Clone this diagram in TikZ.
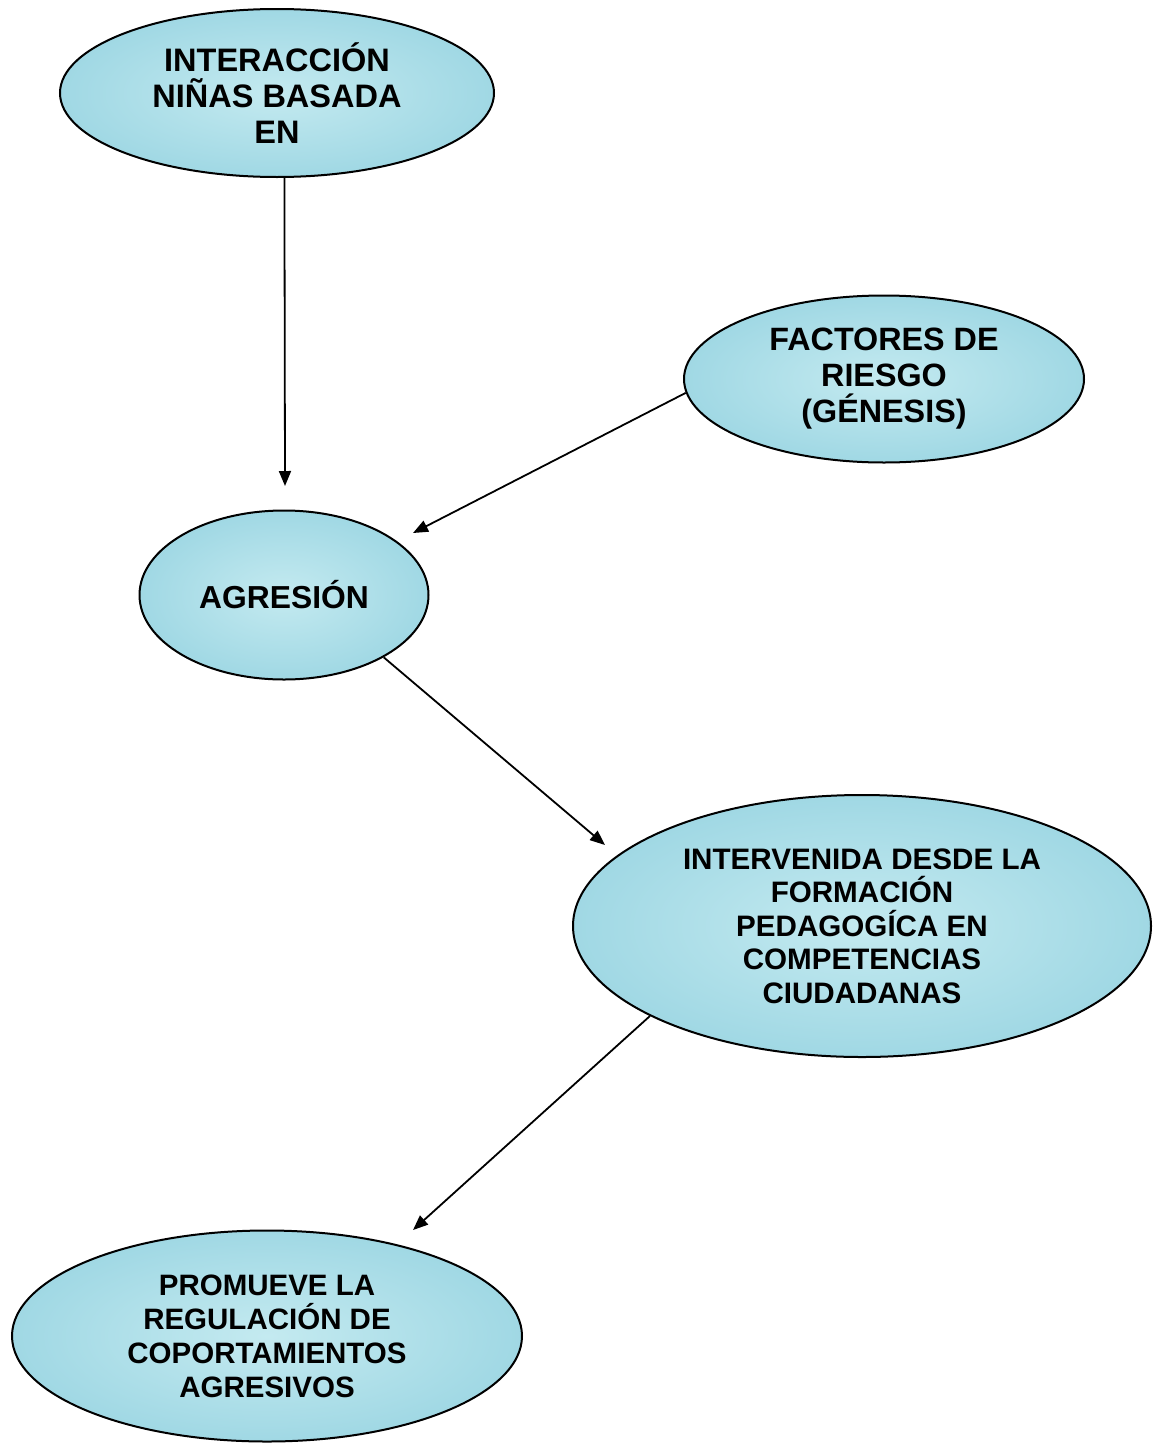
\documentclass[tikz,border=0pt]{standalone}
\usepackage{fontspec}
\setmainfont{Liberation Sans}
\usetikzlibrary{shapes.geometric,arrows.meta}
\definecolor{drop}{RGB}{160,216,228}
\definecolor{droplight}{RGB}{196,234,240}
\tikzset{
  bubble/.style={ellipse, draw=black, line width=2pt, inner sep=0pt,
    inner color=droplight, outer color=drop, align=center, font=\bfseries},
  link/.style={line width=1.8pt, -{Triangle[length=15pt,width=12pt]}}
}
\begin{document}
\begin{tikzpicture}[x=1pt,y=-1pt]
\useasboundingbox (0,0) rectangle (1156,1443);
\node[bubble, minimum width=434pt, minimum height=168pt,
  font=\bfseries\fontsize{32.5}{36}\selectfont] (inter) at (277,93)
  {INTERACCIÓN\\NIÑAS BASADA\\EN};
\node[bubble, minimum width=400pt, minimum height=167pt,
  font=\bfseries\fontsize{32.3}{36}\selectfont] (fact) at (884,379)
  {FACTORES DE\\RIESGO\\(GÉNESIS)};
\node[bubble, minimum width=289pt, minimum height=169pt,
  font=\bfseries\fontsize{31.8}{36}\selectfont] (agre) at (284,595)
  {AGRESIÓN};
\node[bubble, minimum width=578pt, minimum height=262pt,
  font=\bfseries\fontsize{29.6}{33.5}\selectfont] (inte) at (862,926)
  {INTERVENIDA DESDE LA\\FORMACIÓN\\PEDAGOGÍCA EN\\COMPETENCIAS\\CIUDADANAS};
\node[bubble, minimum width=510pt, minimum height=211pt,
  font=\bfseries\fontsize{29.5}{34}\selectfont] (prom) at (267,1336)
  {PROMUEVE LA\\REGULACIÓN DE\\COPORTAMIENTOS\\AGRESIVOS};
\coordinate (t1) at (285,486);
\coordinate (t2) at (413,533);
\coordinate (t3) at (605,845);
\coordinate (t4) at (413,1230);
\draw[link] (inter.275) -- (t1);
\draw[link] (fact.184) -- (t2);
\draw[link] (agre.328) -- (t3);
\draw[link] (inte.203) -- (t4);
\end{tikzpicture}
\end{document}
